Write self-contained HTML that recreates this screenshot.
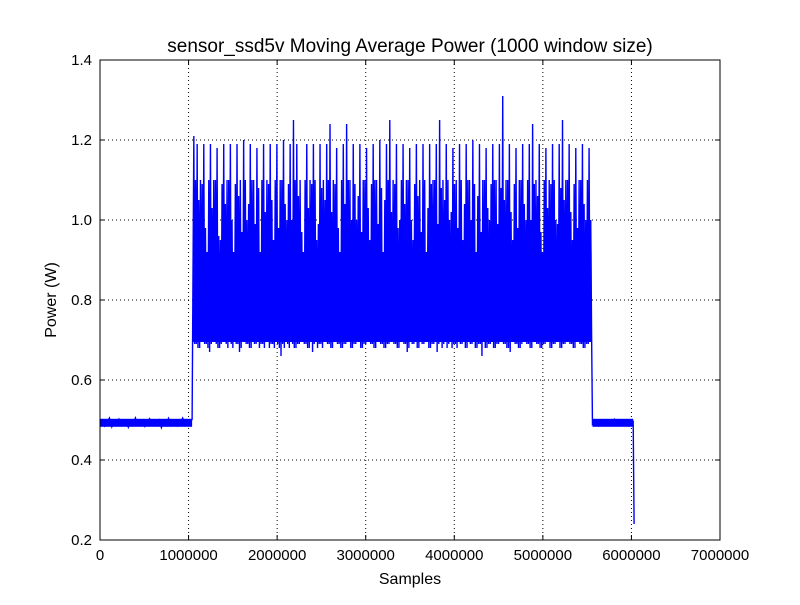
<!DOCTYPE html>
<html><head><meta charset="utf-8"><style>
body{margin:0;background:#fff;}
svg text{font-family:"Liberation Sans","DejaVu Sans",sans-serif;}
</style></head><body>
<svg id="chart" width="800" height="600" xmlns="http://www.w3.org/2000/svg">
<rect width="800" height="600" fill="#fff"/>
<g id="grid"></g>
<g id="plot"></g>
<g id="axes"></g>
<text x="410" y="52" font-size="19" text-anchor="middle">sensor_ssd5v Moving Average Power (1000 window size)</text>
<text x="410" y="584" font-size="16" text-anchor="middle">Samples</text>
<text x="56" y="300" font-size="16" text-anchor="middle" transform="rotate(-90 56 300)">Power (W)</text>
</svg>
<script>
const xTicks=[0,1000000,2000000,3000000,4000000,5000000,6000000,7000000];
const yTicks=[0.2,0.4,0.6,0.8,1.0,1.2,1.4];
const flat1Start=0, flat1End=1040000;
const flat1=[0.49,0.50,0.485,0.495,0.505,0.483,0.498,0.49,0.502,0.486,0.494,0.50,0.482,0.497,0.49,0.505,0.487,0.495,0.50,0.484,0.492,0.503,0.488,0.496,0.49,0.50,0.481,0.498,0.49,0.504,0.486,0.495,0.50,0.485,0.493,0.505,0.488,0.497,0.49,0.502];
const activeStart=1050000, activeEnd=5550000;
const highs=[1.21,1.19,1.1,1.19,0.9,1.19,1.1,1.18,0.95,1.19,
1.1,1.19,0.85,1.19,1.1,1.2,1.0,1.19,1.1,1.18,
0.9,1.19,1.1,1.19,0.95,1.19,1.1,1.2,1.0,1.19,
1.25,1.19,1.1,0.9,1.19,1.1,1.19,0.95,1.19,1.1,
1.19,1.24,1.1,1.18,0.9,1.19,1.24,1.1,1.19,1.0,
1.19,1.1,1.18,0.95,1.19,1.1,1.2,0.9,1.19,1.25,
1.1,1.19,1.0,1.19,1.1,1.18,0.95,1.19,1.1,1.19,
0.9,1.19,1.1,1.19,1.25,1.1,1.19,1.0,1.18,1.1,
1.19,0.95,1.19,1.1,1.2,0.9,1.19,1.1,1.18,1.0,
1.19,1.1,1.19,1.31,1.1,1.19,0.95,1.18,1.1,1.19,
1.0,1.19,1.24,1.1,1.19,0.9,1.18,1.1,1.19,1.0,
1.19,1.25,1.1,1.19,0.95,1.18,1.1,1.19,1.0,1.18];
const mids=[1.1,1.05,1.09,0.98,1.1,1.03,1.1,0.96,1.09,1.04,
1.1,1.0,1.09,1.06,0.97,1.1,1.04,1.1,0.99,1.08,
1.1,1.02,1.09,1.05,1.1,0.98,1.1,1.04,1.09,1.0,
1.1,1.06,0.97,1.1,1.03,1.09,1.1,0.99,1.08,1.05,
1.1,1.02,1.09,0.98,1.1,1.04,1.1,1.0,1.09,1.06,
0.97,1.1,1.03,1.09,1.1,0.99,1.08,1.05,1.1,1.02,
1.09,0.98,1.1,1.04,1.1,1.0,1.09,1.06,0.97,1.1,
1.03,1.09,1.1,0.99,1.08,1.05,1.1,1.02,1.09,0.98,
1.1,1.04,1.1,1.0,1.09,1.06,0.97,1.1,1.03,1.09,
1.1,0.99,1.08,1.05,1.1,1.02,1.09,0.98,1.1,1.04,
1.1,1.0,1.09,1.06,0.97,1.1,1.03,1.09,1.1,0.99,
1.08,1.05,1.1,1.02,1.09,0.98,1.1,1.04,1.1,1.0];
const lows=[0.69,0.68,0.70,0.69,0.67,0.70,0.69,0.68,0.71,0.69,
0.70,0.68,0.69,0.67,0.70,0.69,0.68,0.70,0.69,0.68,
0.69,0.70,0.68,0.69,0.71,0.68,0.69,0.70,0.68,0.69,
0.68,0.69,0.70,0.69,0.68,0.67,0.70,0.69,0.68,0.70,
0.69,0.68,0.70,0.69,0.68,0.69,0.70,0.68,0.69,0.70,
0.68,0.69,0.70,0.69,0.68,0.70,0.69,0.68,0.69,0.70,
0.69,0.68,0.70,0.69,0.68,0.69,0.70,0.68,0.69,0.70,
0.68,0.69,0.70,0.69,0.68,0.70,0.69,0.68,0.69,0.70,
0.69,0.68,0.70,0.69,0.68,0.69,0.66,0.68,0.69,0.70,
0.68,0.69,0.70,0.69,0.68,0.70,0.69,0.68,0.69,0.70,
0.69,0.68,0.70,0.69,0.68,0.69,0.70,0.68,0.69,0.70,
0.68,0.69,0.70,0.69,0.68,0.70,0.69,0.68,0.69,0.72];
const flat2Start=5560000, flat2End=6020000;
const flat2=[0.49,0.50,0.485,0.495,0.50,0.487,0.493,0.502,0.488,0.496,0.49,0.50,0.486,0.495];
const endDrop=[6030000,0.24];

const X0=100,X1=720,Y0=540,Y1=60;
const xs=v=>X0+(v-0)/(7000000)*(X1-X0);
const ys=v=>Y0-(v-0.2)/(1.2)*(Y0-Y1);
const NS='http://www.w3.org/2000/svg';
function mk(t,p,parent){const e=document.createElementNS(NS,t);for(const k in p)e.setAttribute(k,p[k]);parent.appendChild(e);return e;}
const grid=document.getElementById('grid'),axes=document.getElementById('axes'),plot=document.getElementById('plot');
xTicks.forEach(t=>{const x=xs(t);
 if(t>0&&t<7000000){const g=mk('line',{x1:x,x2:x,y1:Y1,y2:Y0,stroke:'#000','stroke-dasharray':'1,3','stroke-width':1},grid);}
 mk('line',{x1:x,x2:x,y1:Y0,y2:Y0-5,stroke:'#000'},axes);mk('line',{x1:x,x2:x,y1:Y1,y2:Y1+5,stroke:'#000'},axes);
 const tx=mk('text',{x:x,y:Y0+20,'font-size':15,'text-anchor':'middle'},axes);tx.textContent=String(t);
 });
yTicks.forEach(t=>{const y=ys(t);
 if(t>0.2&&t<1.4){const g=mk('line',{x1:X0,x2:X1,y1:y,y2:y,stroke:'#000','stroke-dasharray':'1,3','stroke-width':1},grid);}
 mk('line',{x1:X0,x2:X0+5,y1:y,y2:y,stroke:'#000'},axes);mk('line',{x1:X1,x2:X1-5,y1:y,y2:y,stroke:'#000'},axes);
 const tx=mk('text',{x:X0-8,y:y+5,'font-size':15,'text-anchor':'end'},axes);tx.textContent=t.toFixed(1);
 });
const fr=mk('rect',{x:X0,y:Y1,width:X1-X0,height:Y0-Y1,fill:'none',stroke:'#000','stroke-width':1},axes);

const pts=[];
flat1.forEach((v,i)=>pts.push([flat1Start+(flat1End-flat1Start)*i/(flat1.length-1),v]));
const n=highs.length,step=(activeEnd-activeStart)/n;
for(let i=0;i<n;i++){
 pts.push([activeStart+i*step+step*0.25,highs[i]]);
 pts.push([activeStart+i*step+step*0.5,lows[(i+60)%n]]);
 pts.push([activeStart+i*step+step*0.75,mids[i]]);
 pts.push([activeStart+(i+1)*step,lows[i]]);}
flat2.forEach((v,i)=>pts.push([flat2Start+(flat2End-flat2Start)*i/(flat2.length-1),v]));
pts.push(endDrop);
const line=mk('polyline',{points:pts.map(p=>xs(p[0]).toFixed(2)+','+ys(p[1]).toFixed(2)).join(' '),fill:'none',stroke:'#0000ff','stroke-width':1.4,'stroke-linejoin':'miter'},plot);


[[flat1Start,flat1End],[flat2Start,flat2End]].forEach(s=>{const r=mk('rect',{x:xs(s[0]),y:ys(0.503),width:xs(s[1])-xs(s[0]),height:ys(0.483)-ys(0.503),fill:'#0000ff'},plot);
 });
const core=mk('rect',{x:xs(activeStart),y:ys(0.92),width:xs(activeEnd)-xs(activeStart),height:ys(0.695)-ys(0.92),fill:'#0000ff'},plot);


</script>
</body></html>
